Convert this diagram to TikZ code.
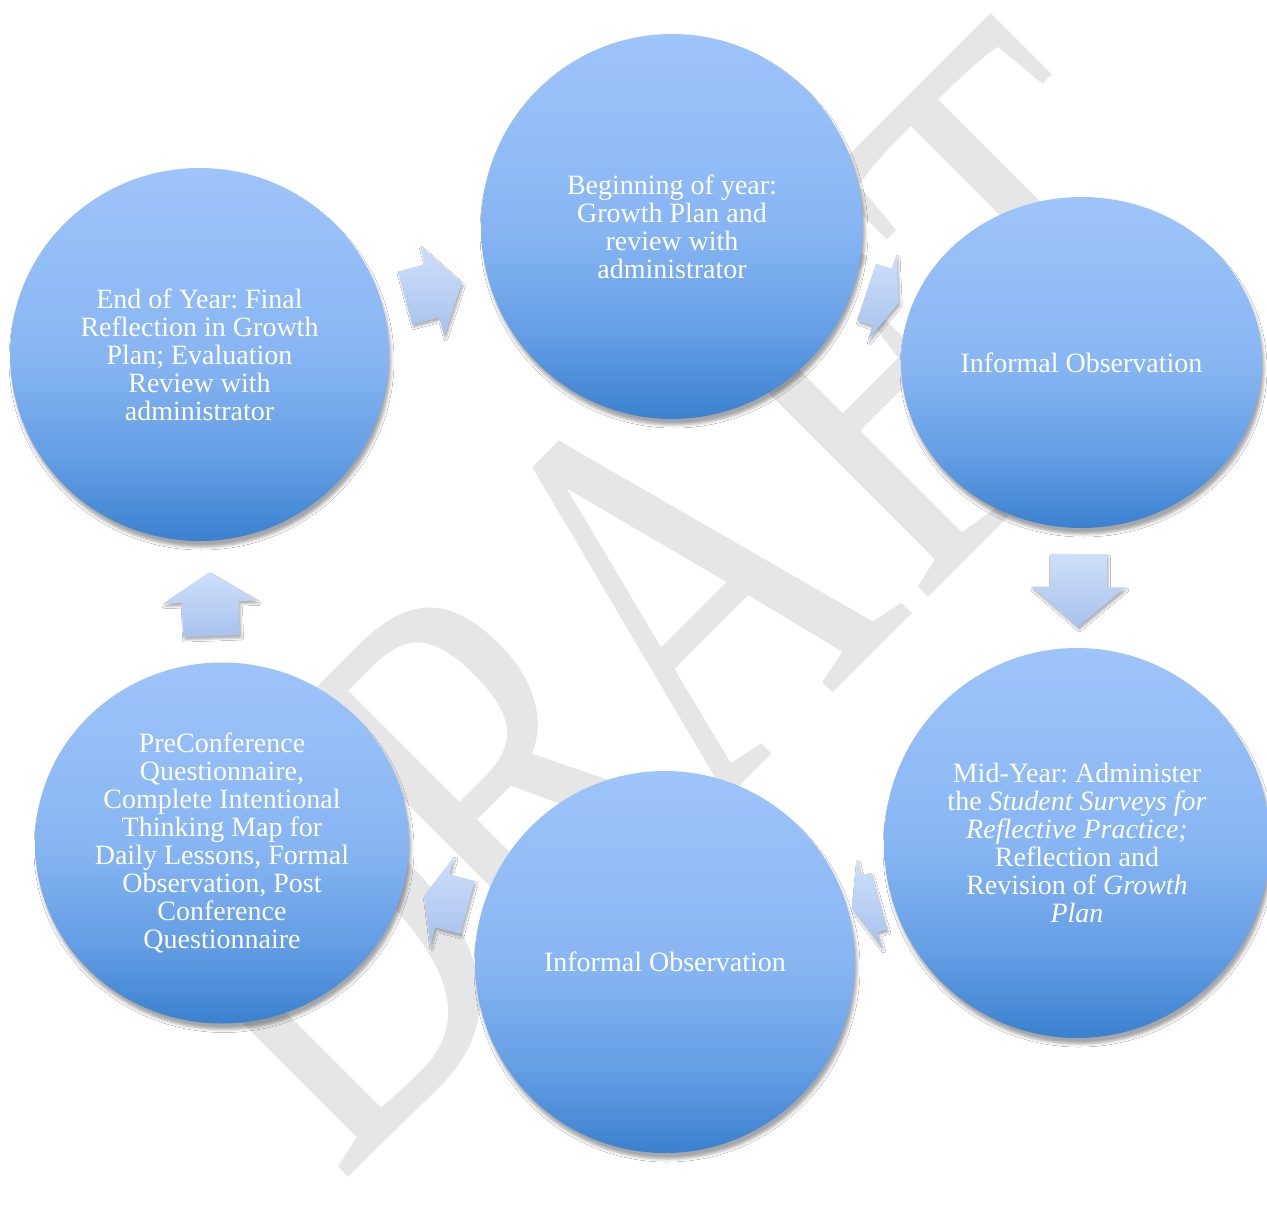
\documentclass[tikz,border=0pt]{standalone}
\usepackage{fontspec}
\setmainfont{Liberation Serif}
\newfontfamily\wmfont{Liberation Serif}
\usetikzlibrary{shapes.geometric,shadows.blur}
\definecolor{ctop}{RGB}{158,196,250}
\definecolor{cmid}{RGB}{136,182,243}
\definecolor{cmidlow}{RGB}{100,158,228}
\definecolor{cbot}{RGB}{58,129,207}
\definecolor{atop}{RGB}{206,223,250}
\definecolor{abot}{RGB}{168,194,237}
\definecolor{wmgray}{RGB}{230,230,230}
\pgfdeclareverticalshading{bubbleshade}{100bp}{color(0bp)=(cbot); color(25bp)=(cbot); color(36bp)=(cmidlow); color(50bp)=(cmid); color(75bp)=(ctop); color(100bp)=(ctop)}
\tikzset{
  bubblenode/.style={ellipse, shading=bubbleshade, inner sep=0pt, text=white, align=center,
    font=\fontsize{28}{28}\selectfont,
    blur shadow={shadow xshift=2pt, shadow yshift=-6pt, shadow blur radius=3pt, shadow opacity=35}},
  cyclearrowstyle/.style={top color=atop, bottom color=abot,
    blur shadow={shadow xshift=1.5pt, shadow yshift=-3pt, shadow blur radius=2pt, shadow opacity=30}},
  watermark/.style={text=wmgray, inner sep=0pt, font=\wmfont\fontsize{563}{563}\selectfont}
}
% #1,#2 back-middle point, #3 angle, #4 length, #5 head length, #6 shaft width, #7 head width
\newcommand\cyclearrow[7]{%
  \begin{scope}[shift={(#1,#2)}, rotate=#3]
    \path[cyclearrowstyle] (0,-#6/2) -- (#4-#5,-#6/2) -- (#4-#5,-#7/2) -- (#4,0)
      -- (#4-#5,#7/2) -- (#4-#5,#6/2) -- (0,#6/2) -- cycle;
  \end{scope}}
\begin{document}
\frenchspacing
\begin{tikzpicture}[x=1pt,y=-1pt]
\useasboundingbox (0,0) rectangle (1267,1205);
\clip (0,0) rectangle (1267,1205);
\fill[white] (0,0) rectangle (1267,1205);

% watermark
\node[watermark, rotate=45, xscale=0.72] (wm) at (668,596)
  {D\kern-30pt R\kern-33pt A\kern8.5pt F\kern8.5pt T};

% circles
\node[bubblenode, minimum width=382pt, minimum height=385pt] (c1) at (672,226.5)
  {Beginning of year:\\Growth Plan and\\review with\\administrator};
\node[bubblenode, minimum width=361pt, minimum height=331pt] (c2) at (1081.5,362.5)
  {Informal Observation};
\node[bubblenode, minimum width=386pt, minimum height=390pt] (c3) at (1077,843)
  {Mid-Year: Administer\\the \textit{Student Surveys for}\\\textit{Reflective Practice;}\\Reflection and\\Revision of \textit{Growth}\\\textit{Plan}};
\node[bubblenode, minimum width=380pt, minimum height=382pt] (c4) at (665,962)
  {Informal Observation};
\node[bubblenode, minimum width=374pt, minimum height=361pt] (c5) at (222,843)
  {PreConference\\Questionnaire,\\Complete Intentional\\Thinking Map for\\Daily Lessons, Formal\\Observation, Post\\Conference\\Questionnaire};
\node[bubblenode, minimum width=379pt, minimum height=373pt] (c6) at (199.5,354.5)
  {End of Year: Final\\Reflection in Growth\\Plan; Evaluation\\Review with\\administrator};

% arrows
\cyclearrow{405}{298}{15}{59}{31}{55}{94}
\cyclearrow{866.5}{292}{-18.5}{34}{17.5}{60}{91}
\cyclearrow{1078.5}{554}{-90.5}{73}{40}{57}{94}
\cyclearrow{879}{901}{196}{28}{18}{59}{92}
\cyclearrow{467.5}{907.5}{165}{45}{19}{55}{93}
\cyclearrow{211.5}{636}{92}{64}{30}{57}{95}
\end{tikzpicture}
\end{document}
